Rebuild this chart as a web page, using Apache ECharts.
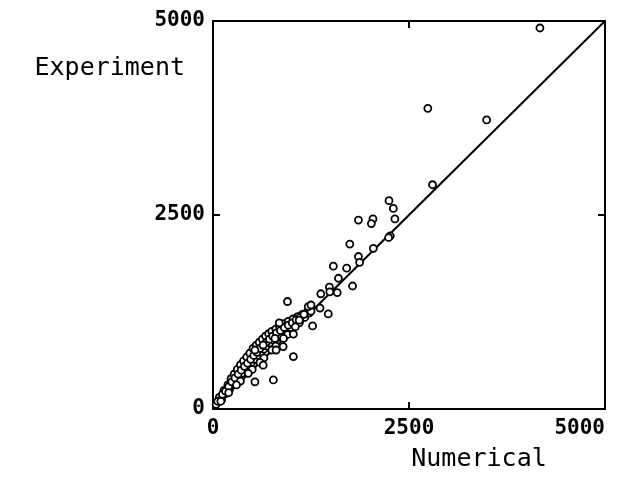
<!DOCTYPE html>
<html>
<head>
<meta charset="utf-8">
<script src="https://cdn.jsdelivr.net/npm/echarts@6/dist/echarts.min.js"></script>
<style>
    html, body {
        margin: 0;
        padding: 0;
        background: #fff;
    }

    #main {
        width: 618px;
        height: 477px;
    }
</style>
</head>
<body>
<div id="main"></div>
<script>
    // 刻度
    var xTicks = [0, 2500, 5000];
    var yTicks = [0, 2500, 5000];

    // 对角线 (numerical = experiment)
    var lineNumerical = [0, 5000];
    var lineExperiment = [0, 5000];

    // 散点: 离散的点
    var outlierNumerical = [4170, 2740, 3490, 2800, 2245, 2300, 1855, 2040, 2020, 2320, 2260, 2240, 1745, 2045, 1855, 1870,
        1535, 1705, 1600, 1780, 1485, 1375, 1490, 1585, 950, 1215, 1250, 1365, 1470, 1100, 845, 1270, 1025, 790, 640, 895,
        535, 1025, 805, 640, 535, 770];
    var outlierExperiment = [4910, 3875, 3725, 2890, 2685, 2585, 2435, 2450, 2390, 2450, 2230, 2210, 2125, 2070, 1965, 1890,
        1840, 1815, 1685, 1585, 1570, 1485, 1510, 1500, 1385, 1320, 1340, 1300, 1225, 1145, 1110, 1070, 965, 910, 825, 805,
        760, 675, 760, 565, 350, 375];

    // 散点: 对角线附近的密集区 (外缘)
    var clusterNumerical = [40, 80, 110, 140, 170, 190, 210, 230, 250, 270, 290, 310, 330, 350, 370, 390, 410, 430, 450, 470,
        490, 510, 530, 550, 570, 590, 610, 630, 650, 670, 690, 710, 730, 750, 770, 800, 820, 850, 870, 900, 930, 960, 990,
        1020, 1050, 1080, 1110, 1140, 1170, 1200, 1230];
    var clusterExperiment = [60, 150, 120, 240, 200, 310, 250, 390, 320, 450, 370, 510, 410, 570, 460, 620, 510, 670, 550, 720,
        600, 780, 640, 820, 690, 860, 730, 900, 770, 940, 810, 970, 850, 1000, 890, 1030, 920, 1060, 950, 1100, 1000, 1130, 1050,
        1160, 1090, 1190, 1140, 1220, 1180, 1250, 1240];

    // 散点: 密集区内部
    var coreNumerical = [60, 120, 160, 200, 240, 280, 320, 360, 400, 440, 480, 520, 560, 600, 640, 680, 720, 760, 810, 860,
        910, 960, 1010, 1060, 1110, 1160, 100, 200, 350, 500, 650, 800, 950, 1100, 1250, 300, 450, 600, 750, 900, 1050];
    var coreExperiment = [100, 190, 230, 290, 350, 400, 450, 500, 550, 590, 640, 690, 730, 780, 820, 860, 900, 940, 980, 1010,
        1050, 1080, 1110, 1150, 1180, 1220, 100, 210, 360, 510, 660, 810, 960, 1110, 1260, 310, 460, 600, 760, 910, 1060];

    function zip(a, b) {
        var out = [];
        for (var i = 0; i < a.length; i++) {
            out.push([a[i], b[i]]);
        }
        return out;
    }

    var labelFont = {
        color: '#000',
        fontFamily: 'DejaVu Sans Mono',
        fontWeight: 'bold',
        fontSize: 21,
        formatter: function (v) {
            return String(v);
        }
    };

    var nameFont = {
        color: '#000',
        fontFamily: 'DejaVu Sans Mono',
        fontSize: 25
    };

    var pointStyle = {color: '#fff', borderColor: '#000', borderWidth: 1.8, opacity: 1};

    var myChart = echarts.init(document.getElementById('main'), null, {renderer: 'canvas'});

    function baseAxis(pos, showLabel, ticks) {
        return {
            type: 'value',
            position: pos,
            min: ticks[0],
            max: ticks[ticks.length - 1],
            interval: ticks[1] - ticks[0],
            axisLine: {show: true, onZero: false, lineStyle: {color: '#000', width: 2}},
            axisTick: {show: true, inside: true, length: 7, lineStyle: {color: '#000', width: 2}},
            axisLabel: {show: showLabel},
            splitLine: {show: false}
        };
    }

    var xBottom = baseAxis('bottom', true, xTicks);
    xBottom.axisLabel = Object.assign({show: true, margin: 9, alignMaxLabel: 'right'}, labelFont);
    xBottom.name = 'Numerical';
    xBottom.nameLocation = 'middle';
    xBottom.nameGap = 38;
    xBottom.nameTextStyle = Object.assign({padding: [0, 0, 0, 140]}, nameFont);

    var yLeft = baseAxis('left', true, yTicks);
    yLeft.axisLabel = Object.assign({show: true, margin: 8, padding: [0, 0, 8, 0]}, labelFont);
    yLeft.name = 'Experiment';
    yLeft.nameLocation = 'end';
    yLeft.nameGap = -47;
    yLeft.nameTextStyle = Object.assign({align: 'right', verticalAlign: 'middle', padding: [0, 28, 0, 0]}, nameFont);

    option = {
        animation: false,
        backgroundColor: '#fff',
        grid: {left: 213, right: 13, top: 21, bottom: 68},
        xAxis: [xBottom, baseAxis('top', false, xTicks)],
        yAxis: [yLeft, baseAxis('right', false, yTicks)],
        series: [
            {
                name: 'line',
                type: 'line',
                data: zip(lineNumerical, lineExperiment),
                showSymbol: false,
                lineStyle: {color: '#000', width: 2},
                z: 2
            },
            {
                name: 'cluster',
                type: 'scatter',
                data: zip(clusterNumerical, clusterExperiment),
                symbol: 'circle',
                symbolSize: 7,
                itemStyle: pointStyle,
                z: 3
            },
            {
                name: 'core',
                type: 'scatter',
                data: zip(coreNumerical, coreExperiment),
                symbol: 'circle',
                symbolSize: 7,
                itemStyle: pointStyle,
                z: 3
            },
            {
                name: 'outlier',
                type: 'scatter',
                data: zip(outlierNumerical, outlierExperiment),
                symbol: 'circle',
                symbolSize: 7,
                itemStyle: pointStyle,
                z: 3
            }
        ]
    };

    myChart.setOption(option);
</script>
</body>
</html>
